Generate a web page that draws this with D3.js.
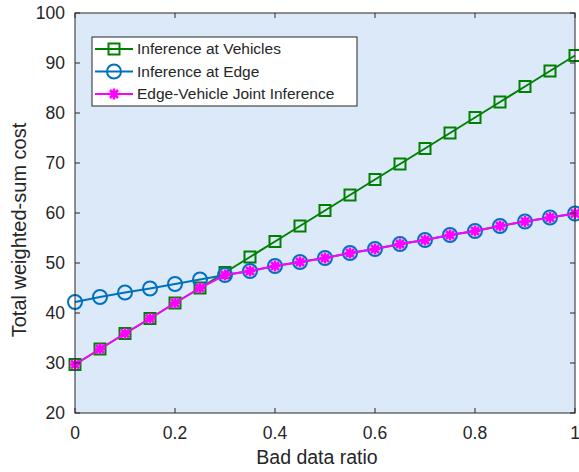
<!DOCTYPE html>
<html lang="en">
<head>
    <meta charset="UTF-8">
    <title>Total weighted-sum cost</title>
    <script src="https://cdn.jsdelivr.net/npm/d3@7"></script>
    <style>
        body { margin: 0; background: #fff; }
        text { font-family: "Liberation Sans", Arial, sans-serif; fill: #262626; }
    </style>
</head>
<body>
    <div id="chart"></div>

    <script>
        // bad data ratio, 0 to 1 step 0.05
        const ratios = [0, 0.05, 0.1, 0.15, 0.2, 0.25, 0.3, 0.35, 0.4, 0.45, 0.5,
                        0.55, 0.6, 0.65, 0.7, 0.75, 0.8, 0.85, 0.9, 0.95, 1];
        const vehicles = [29.7, 32.8, 35.9, 38.9, 42.0, 45.0, 48.1, 51.2, 54.3, 57.4, 60.5,
                          63.6, 66.7, 69.8, 72.9, 76.0, 79.1, 82.2, 85.3, 88.4, 91.5];
        const edge = [42.2, 43.2, 44.1, 44.9, 45.8, 46.7, 47.6, 48.4, 49.4, 50.2, 51.0,
                      52.0, 52.8, 53.8, 54.6, 55.6, 56.4, 57.4, 58.3, 59.1, 59.9];
        const joint = [29.7, 32.8, 35.9, 38.9, 42.0, 45.0, 47.6, 48.4, 49.4, 50.2, 51.0,
                       52.0, 52.8, 53.8, 54.6, 55.6, 56.4, 57.4, 58.3, 59.1, 59.9];
        const xTicks = [0, 0.2, 0.4, 0.6, 0.8, 1];
        const yTicks = [20, 30, 40, 50, 60, 70, 80, 90, 100];
        const seriesNames = ["Inference at Vehicles", "Inference at Edge", "Edge-Vehicle Joint Inference"];

        const width = 579;
        const height = 472;
        const marginTop = 13;
        const marginRight = 4;
        const marginBottom = 59;
        const marginLeft = 75;

        const x = d3.scaleLinear()
            .domain([0, 1])
            .range([marginLeft, width - marginRight]);

        const y = d3.scaleLinear()
            .domain([20, 100])
            .range([height - marginBottom, marginTop]);

        const svg = d3.select("#chart").append("svg")
            .attr("width", width)
            .attr("height", height);

        svg.append("rect")
            .attr("x", x(0))
            .attr("y", y(100))
            .attr("width", x(1) - x(0))
            .attr("height", y(20) - y(100))
            .attr("fill", "#dce9f9");

        const series = [
            {name: seriesNames[0], values: vehicles, color: "#008000", marker: "square"},
            {name: seriesNames[1], values: edge, color: "#0072bd", marker: "circle"},
            {name: seriesNames[2], values: joint, color: "#ff00ff", marker: "star"}
        ];

        function drawMarker(g, type, color) {
            if (type === "square") {
                g.append("rect")
                    .attr("x", -5.5).attr("y", -5.5)
                    .attr("width", 11).attr("height", 11)
                    .attr("fill", "none")
                    .attr("stroke", color)
                    .attr("stroke-width", 2);
            } else if (type === "circle") {
                g.append("circle")
                    .attr("r", 7)
                    .attr("fill", "none")
                    .attr("stroke", color)
                    .attr("stroke-width", 2);
            } else {
                const s = 5.5, d = 4;
                g.append("path")
                    .attr("d", `M${-s},0L${s},0M0,${-s}L0,${s}M${-d},${-d}L${d},${d}M${-d},${d}L${d},${-d}`)
                    .attr("fill", "none")
                    .attr("stroke", color)
                    .attr("stroke-width", 2.5);
            }
        }

        const line = d3.line()
            .x((d, i) => x(ratios[i]))
            .y(d => y(d));

        series.forEach(s => {
            svg.append("path")
                .attr("d", line(s.values))
                .attr("fill", "none")
                .attr("stroke", s.color)
                .attr("stroke-width", 2);

            s.values.forEach((v, i) => {
                const g = svg.append("g")
                    .attr("transform", `translate(${x(ratios[i])},${y(v)})`);
                drawMarker(g, s.marker, s.color);
            });
        });

        // box and ticks
        const axisColor = "#262626";
        const frame = svg.append("g")
            .attr("stroke", axisColor)
            .attr("stroke-width", 1);

        frame.append("rect")
            .attr("x", x(0))
            .attr("y", y(100))
            .attr("width", x(1) - x(0))
            .attr("height", y(20) - y(100))
            .attr("fill", "none");

        xTicks.forEach(t => {
            frame.append("line").attr("x1", x(t)).attr("x2", x(t))
                .attr("y1", y(20)).attr("y2", y(20) - 5);
            frame.append("line").attr("x1", x(t)).attr("x2", x(t))
                .attr("y1", y(100)).attr("y2", y(100) + 5);
        });
        yTicks.forEach(t => {
            frame.append("line").attr("x1", x(0)).attr("x2", x(0) + 5)
                .attr("y1", y(t)).attr("y2", y(t));
            frame.append("line").attr("x1", x(1)).attr("x2", x(1) - 5)
                .attr("y1", y(t)).attr("y2", y(t));
        });

        svg.append("g")
            .selectAll("text")
            .data(xTicks)
            .join("text")
            .attr("x", d => x(d))
            .attr("y", y(20) + 26)
            .attr("text-anchor", "middle")
            .attr("font-size", 17.5)
            .text(d => d);

        svg.append("g")
            .selectAll("text")
            .data(yTicks)
            .join("text")
            .attr("x", x(0) - 10)
            .attr("y", d => y(d))
            .attr("dy", "0.35em")
            .attr("text-anchor", "end")
            .attr("font-size", 17.5)
            .text(d => d);

        svg.append("text")
            .attr("x", 317)
            .attr("y", 464)
            .attr("text-anchor", "middle")
            .attr("font-size", 19.5)
            .text("Bad data ratio");

        svg.append("text")
            .attr("transform", "translate(26,230) rotate(-90)")
            .attr("text-anchor", "middle")
            .attr("font-size", 20)
            .text("Total weighted-sum cost");

        // legend
        const legend = svg.append("g").attr("transform", "translate(92,37)");
        legend.append("rect")
            .attr("width", 265)
            .attr("height", 69)
            .attr("fill", "#fff")
            .attr("stroke", axisColor)
            .attr("stroke-width", 1);

        series.forEach((s, i) => {
            const row = legend.append("g")
                .attr("transform", `translate(0,${12 + i * 22.5})`);
            row.append("line")
                .attr("x1", 3).attr("x2", 41)
                .attr("stroke", s.color)
                .attr("stroke-width", 2);
            drawMarker(row.append("g").attr("transform", "translate(22,0)"), s.marker, s.color);
            row.append("text")
                .attr("x", 45)
                .attr("dy", "0.35em")
                .attr("font-size", 15.5)
                .text(s.name);
        });
    </script>
</body>
</html>
